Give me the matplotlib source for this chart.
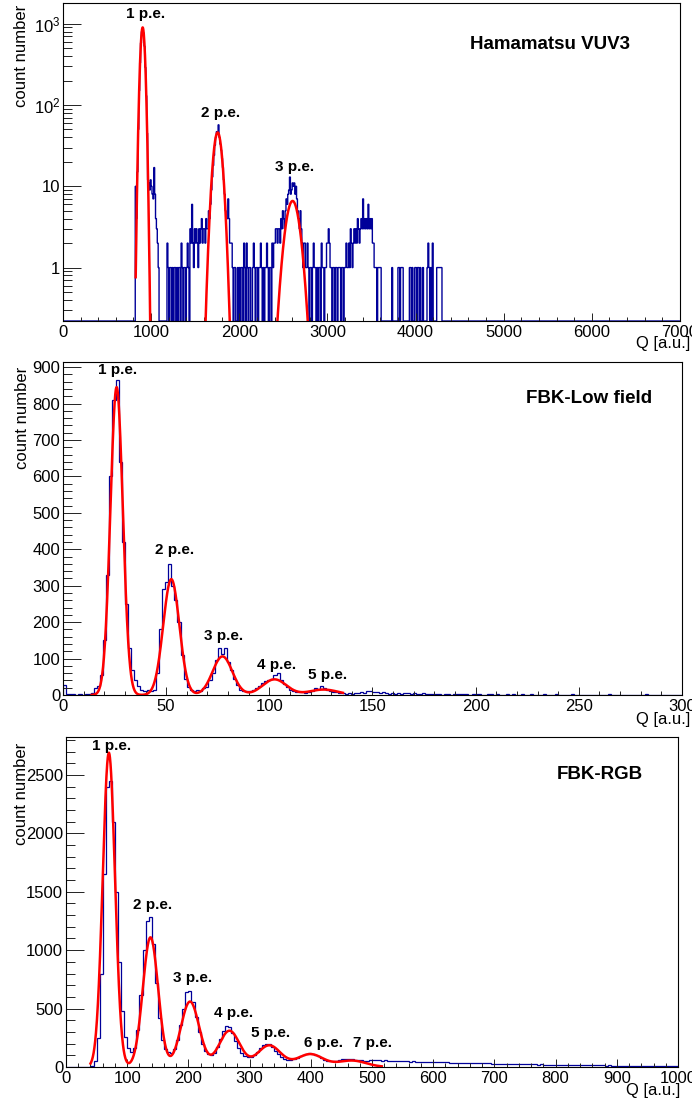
import matplotlib
matplotlib.use("Agg")
import matplotlib.pyplot as plt
from matplotlib.ticker import MultipleLocator, FixedLocator, FixedFormatter, LogLocator, NullFormatter
import numpy as np

plt.rcParams['font.family'] = ['Liberation Sans', 'DejaVu Sans']
plt.rcParams['mathtext.default'] = 'regular'

BLUE = '#000099'
RED = '#ff0000'

# ---------------- Hamamatsu VUV3 (log y) ----------------
vuv_bin = 10
vuv_first = 800
vuv_counts = [
    0, 0, 10, 4, 15, 50, 150, 330, 580, 800, 880, 770, 530, 290, 130, 45, 12, 11, 9, 12,   # 800-1000
    10, 8, 7, 17, 8, 4, 3, 2, 1, 0, 0, 0, 0, 0, 0, 0, 0, 0, 2, 1,                        # 1000-1200
    0, 1, 1, 0, 1, 0, 1, 1, 0, 1, 0, 1, 1, 0, 2, 1, 0, 1, 1, 0,                          # 1200-1400
    1, 2, 1, 0, 3, 2, 6, 2, 1, 3, 2, 3, 2, 1, 3, 2, 3, 4, 2, 3,                          # 1400-1600
    3, 2, 4, 3, 3, 5, 4, 6, 9, 13, 18, 24, 32, 40, 47, 44, 57, 40, 33, 28,               # 1600-1800
    22, 17, 12, 8, 5, 4, 4, 7, 4, 2, 2, 2, 1, 0, 1, 1, 0, 0, 1, 0,                       # 1800-2000
    1, 0, 1, 1, 0, 2, 1, 0, 2, 1, 0, 1, 1, 0, 0, 1, 2, 1, 0, 1,                          # 2000-2200
    1, 0, 1, 1, 2, 1, 0, 1, 0, 1, 1, 2, 1, 0, 1, 1, 0, 2, 1, 2,                          # 2200-2400
    2, 3, 3, 2, 3, 3, 2, 4, 3, 5, 4, 3, 5, 7, 6, 8, 9, 13, 8, 9,                         # 2400-2600
    11, 10, 11, 8, 10, 7, 5, 4, 3, 5, 3, 2, 1, 2, 2, 1, 1, 2, 1, 0,                      # 2600-2800
    1, 1, 0, 1, 2, 1, 1, 0, 1, 0, 1, 1, 0, 2, 1, 1, 0, 1, 1, 2,                          # 2800-3000
    2, 3, 2, 1, 1, 0, 1, 1, 0, 1, 1, 0, 1, 1, 1, 0, 1, 1, 0, 1,                          # 3000-3200
    1, 2, 1, 1, 2, 1, 3, 2, 1, 2, 3, 2, 3, 2, 4, 3, 2, 3, 4, 3,                          # 3200-3400
    7, 3, 4, 3, 4, 3, 6, 3, 4, 3, 4, 2, 2, 1, 1, 1, 0, 1, 1, 1,                          # 3400-3600
    1, 0, 0, 0, 0, 0, 0, 0, 0, 0, 0, 0, 0, 1, 0, 0, 0, 0, 0, 0,                          # 3600-3800
    1, 1, 0, 1, 1, 1, 0, 0, 0, 0, 0, 0, 0, 1, 1, 0, 1, 0, 0, 1,                          # 3800-4000
    1, 0, 1, 1, 0, 1, 0, 0, 1, 0, 0, 0, 0, 1, 2, 1, 0, 1, 0, 2,                          # 4000-4200
    0, 0, 0, 0, 1, 1, 1, 1, 1, 1,                                                         # 4200-4300
]
vuv_fit_mean = [904, 1755, 2605]
vuv_fit_sigma = [21, 42, 66]
vuv_fit_amp = [900, 46, 6.6]
vuv_fit_range = [825, 2800]
vuv_labels = ['1 p.e.', '2 p.e.', '3 p.e.']
vuv_label_x = [942, 1793, 2633]
vuv_label_y = [1309, 80, 17.4]

# ---------------- FBK-Low field ----------------
lf_bin = 1.5
lf_counts = [
    28, 3, 2, 2, 1, 2, 1, 2, 3, 5,
    20, 25, 55, 150, 330, 600, 810, 865, 640, 420,
    250, 130, 70, 40, 25, 15, 12, 14, 12, 14,
    60, 180, 290, 310, 360, 300, 260, 200, 110, 45,
    22, 14, 12, 15, 12, 18, 22, 40, 60, 95,
    130, 112, 128, 90, 70, 45, 28, 15, 12, 12,
    10, 14, 20, 25, 32, 38, 42, 45, 55, 60,
    40, 30, 22, 15, 10, 9, 8, 8, 6, 9,
    12, 18, 16, 25, 20, 14, 12, 9, 7, 5,
    6, 4, 5, 4, 6, 5, 7, 6, 12, 10,
    8, 7, 5, 8, 6, 4, 5, 3, 6, 4,
    5, 6, 4, 5, 3, 4, 5, 2, 4, 3,
    2, 3, 0, 2, 3, 1, 2, 4, 2, 3,
    2, 1, 3, 2, 2, 1, 0, 2, 3, 1,
    2, 0, 1, 2, 1, 3, 0, 1, 2, 1,
    0, 2, 1, 1, 0, 2, 1, 0, 1, 2,
    1, 0, 1, 0, 2, 1, 0, 1, 0, 1,
    0, 1, 1, 0, 0, 1, 2, 0, 1, 0,
    1, 0, 0, 1, 0, 1, 0, 0, 2, 0,
    0, 1, 0, 0, 1, 0, 0, 1, 0, 0,
]
lf_fit_mean = [26.0, 52.5, 77.3, 102.5, 126.3]
lf_fit_sigma = [3.0, 3.9, 4.8, 5.8, 7.0]
lf_fit_amp = [845, 318, 106, 43, 15]
lf_fit_range = [13.9, 135.7]
lf_labels = ['1 p.e.', '2 p.e.', '3 p.e.', '4 p.e.', '5 p.e.']
lf_label_x = [26.7, 54.3, 77.6, 103.3, 128.4]
lf_label_y = [893, 398, 162, 82, 55]

# ---------------- FBK-RGB ----------------
rgb_bin = 5
rgb_counts = [
    0, 0, 0, 0, 0, 0, 0, 0, 5, 50,
    250, 800, 1650, 2400, 2450, 2100, 1500, 900, 480, 260,
    160, 130, 160, 320, 620, 1000, 1250, 1280, 1050, 720,
    420, 230, 150, 125, 120, 150, 230, 360, 500, 640,
    650, 560, 430, 300, 200, 140, 110, 105, 120, 170,
    240, 310, 350, 340, 290, 220, 160, 120, 95, 85,
    85, 100, 130, 160, 185, 200, 195, 170, 140, 110,
    85, 70, 62, 60, 65, 78, 92, 105, 115, 118,
    115, 105, 90, 75, 62, 55, 52, 52, 55, 60,
    65, 68, 70, 68, 64, 60, 57, 55, 54, 56,
    58, 57, 60, 55, 56, 53, 54, 52, 50, 51,
    49, 50, 47, 48, 46, 45, 46, 43, 44, 42,
    42, 40, 41, 39, 40, 38, 37, 38, 36, 35,
    36, 34, 33, 34, 32, 31, 32, 30, 31, 29,
    29, 28, 29, 27, 26, 27, 25, 26, 24, 25,
    24, 23, 22, 23, 21, 22, 20, 21, 19, 20,
    19, 18, 19, 17, 18, 16, 17, 16, 15, 16,
    15, 14, 15, 13, 14, 13, 12, 13, 12, 11,
    12, 11, 10, 11, 10, 9, 10, 9, 9, 8,
    9, 8, 8, 7, 8, 7, 7, 6, 7, 6,
]
rgb_fit_mean = [70, 138, 202.6, 267, 332, 399, 467]
rgb_fit_sigma = [10, 12.5, 15, 17, 19, 21, 23]
rgb_fit_amp = [2690, 1110, 560, 310, 185, 110, 55]
rgb_fit_range = [40, 516]
rgb_labels = ['1 p.e.', '2 p.e.', '3 p.e.', '4 p.e.', '5 p.e.', '6 p.e.', '7 p.e.']
rgb_label_x = [74, 141, 207, 274, 335, 420, 500]
rgb_label_y = [2748, 1387, 762, 462, 291, 205, 205]


def fit_curve(lo, hi, means, sigmas, amps):
    x = np.linspace(lo, hi, 1500)
    y = np.zeros_like(x)
    for m, s, a in zip(means, sigmas, amps):
        y += a * np.exp(-0.5 * ((x - m) / s) ** 2)
    return x, y


def style(ax):
    ax.tick_params(which='both', direction='in', top=False, right=False,
                   labelsize=12, width=0.7, color='#222222')
    ax.tick_params(axis='y', which='major', length=13, pad=2)
    ax.tick_params(axis='y', which='minor', length=6.5)
    ax.tick_params(axis='x', which='major', length=6, pad=3)
    ax.tick_params(axis='x', which='minor', length=3)
    for s in ax.spines.values():
        s.set_linewidth(0.8)


def labels(ax, ylab_x, ylab_y, xlab_x, xlab_y):
    ax.set_ylabel('count number', fontsize=12)
    ax.yaxis.set_label_coords(ylab_x, ylab_y)
    ax.yaxis.label.set_ha('right')
    ax.yaxis.label.set_va('center')
    ax.set_xlabel('Q [a.u.]', fontsize=12)
    ax.xaxis.set_label_coords(xlab_x, xlab_y)
    ax.xaxis.label.set_ha('right')
    ax.xaxis.label.set_va('center')


fig = plt.figure(figsize=(6.92, 11.02), dpi=100)

# ---- panel 1
ax1 = fig.add_axes([0.0910, 0.7087, 0.8916, 0.2886])
ylo1 = 0.22
full = np.zeros(int(7000 / vuv_bin))
i0 = int(vuv_first / vuv_bin)
full[i0:i0 + len(vuv_counts)] = vuv_counts
edges1 = np.arange(len(full) + 1) * vuv_bin
ax1.set_yscale('log')
ax1.stairs(np.maximum(full, ylo1), edges1, color=BLUE, lw=1.0, baseline=ylo1)
fx, fy = fit_curve(vuv_fit_range[0], vuv_fit_range[1], vuv_fit_mean, vuv_fit_sigma, vuv_fit_amp)
ax1.plot(fx, fy, color=RED, lw=1.8)
ax1.set_xlim(0, 7000)
ax1.set_ylim(ylo1, 1800)
ax1.xaxis.set_major_locator(MultipleLocator(1000))
ax1.xaxis.set_minor_locator(MultipleLocator(200))
ax1.yaxis.set_major_locator(FixedLocator([1, 10, 100, 1000]))
ax1.yaxis.set_major_formatter(FixedFormatter(['1', '10', '$10^{2}$', '$10^{3}$']))
ax1.yaxis.set_minor_locator(LogLocator(subs=np.arange(2, 10)))
ax1.yaxis.set_minor_formatter(NullFormatter())
style(ax1)
labels(ax1, -0.068, 0.994, 1.016, -0.072)
for t, x, y in zip(vuv_labels, vuv_label_x, vuv_label_y):
    ax1.text(x, y, t, ha='center', va='center', fontsize=11, fontweight='bold')
ax1.text(0.789, 0.871, 'Hamamatsu VUV3', transform=ax1.transAxes, ha='center',
         va='center', fontsize=13.5, fontweight='bold')

# ---- panel 2
ax2 = fig.add_axes([0.0910, 0.3693, 0.8945, 0.3022])
edges2 = np.arange(len(lf_counts) + 1) * lf_bin
ax2.stairs(lf_counts, edges2, color=BLUE, lw=0.9)
fx, fy = fit_curve(lf_fit_range[0], lf_fit_range[1], lf_fit_mean, lf_fit_sigma, lf_fit_amp)
ax2.plot(fx, fy, color=RED, lw=1.8)
ax2.set_xlim(0, 300)
ax2.set_ylim(0, 914)
ax2.xaxis.set_major_locator(MultipleLocator(50))
ax2.xaxis.set_minor_locator(MultipleLocator(10))
ax2.yaxis.set_major_locator(MultipleLocator(100))
ax2.yaxis.set_minor_locator(MultipleLocator(20))
style(ax2)
labels(ax2, -0.066, 0.985, 1.013, -0.074)
for t, x, y in zip(lf_labels, lf_label_x, lf_label_y):
    ax2.text(x, y, t, ha='center', va='center', fontsize=11, fontweight='bold')
ax2.text(0.850, 0.889, 'FBK-Low field', transform=ax2.transAxes, ha='center',
         va='center', fontsize=13.5, fontweight='bold')

# ---- panel 3
ax3 = fig.add_axes([0.0954, 0.03176, 0.8844, 0.2995])
edges3 = np.arange(len(rgb_counts) + 1) * rgb_bin
ax3.stairs(rgb_counts, edges3, color=BLUE, lw=0.9)
fx, fy = fit_curve(rgb_fit_range[0], rgb_fit_range[1], rgb_fit_mean, rgb_fit_sigma, rgb_fit_amp)
ax3.plot(fx, fy, color=RED, lw=1.8)
ax3.set_xlim(0, 1000)
ax3.set_ylim(0, 2825)
ax3.xaxis.set_major_locator(MultipleLocator(100))
ax3.xaxis.set_minor_locator(MultipleLocator(20))
ax3.yaxis.set_major_locator(MultipleLocator(500))
ax3.yaxis.set_minor_locator(MultipleLocator(100))
style(ax3)
labels(ax3, -0.072, 0.982, 1.003, -0.07)
for t, x, y in zip(rgb_labels, rgb_label_x, rgb_label_y):
    ax3.text(x, y, t, ha='center', va='center', fontsize=11, fontweight='bold')
ax3.text(0.873, 0.885, 'FBK-RGB', transform=ax3.transAxes, ha='center',
         va='center', fontsize=13.5, fontweight='bold')

fig.savefig('out.png', dpi=100)
